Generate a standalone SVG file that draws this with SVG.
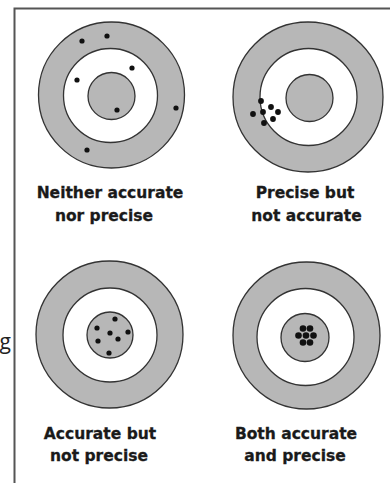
<svg xmlns="http://www.w3.org/2000/svg" width="390" height="483" viewBox="0 0 390 483">
<style>
.ring{fill:#b7b7b7;stroke:#333;stroke-width:1.3}
.mid{fill:#fff;stroke:#333;stroke-width:1.3}
.bull{fill:#b7b7b7;stroke:#333;stroke-width:1.3}
.dot{fill:#111}
.lbl{font-family:"DejaVu Sans",Verdana,sans-serif;font-weight:bold;font-size:15.5px;fill:#1a1a1a;stroke:#1a1a1a;stroke-width:0.3;text-anchor:middle}
.frame{stroke:#555;stroke-width:2;fill:none}
</style>
<rect width="390" height="483" fill="#fff"/>
<path class="frame" d="M14.5 483 V8.5 H390"/>
<text x="11" y="349" font-family="'Open Sans',sans-serif" font-size="21" text-anchor="end" fill="#222">g</text>
<g id="target1">
<circle class="ring" cx="111.5" cy="95" r="73"/>
<circle class="mid" cx="110.5" cy="95.5" r="47"/>
<circle class="bull" cx="111.5" cy="96" r="23.5"/>
<circle class="dot" cx="82" cy="41" r="2.6"/>
<circle class="dot" cx="107" cy="36" r="2.6"/>
<circle class="dot" cx="132" cy="68" r="2.6"/>
<circle class="dot" cx="77" cy="80" r="2.6"/>
<circle class="dot" cx="117" cy="110" r="2.6"/>
<circle class="dot" cx="176" cy="108" r="2.6"/>
<circle class="dot" cx="87" cy="150" r="2.6"/>
<text class="lbl" x="110" y="198">Neither accurate</text>
<text class="lbl" x="104" y="221">nor precise</text>
</g>
<g id="target2">
<circle class="ring" cx="308" cy="97" r="75"/>
<circle class="mid" cx="308.5" cy="97" r="48.5"/>
<circle class="bull" cx="309.5" cy="98" r="23.5"/>
<circle class="dot" cx="261" cy="101" r="2.9"/>
<circle class="dot" cx="253" cy="114" r="2.9"/>
<circle class="dot" cx="263" cy="112" r="2.9"/>
<circle class="dot" cx="271" cy="107" r="2.9"/>
<circle class="dot" cx="278" cy="112" r="2.9"/>
<circle class="dot" cx="273" cy="119" r="2.9"/>
<circle class="dot" cx="264" cy="123" r="2.9"/>
<text class="lbl" x="305" y="198">Precise but</text>
<text class="lbl" x="306.5" y="221">not accurate</text>
</g>
<g id="target3">
<circle class="ring" cx="109.5" cy="334.5" r="73.5"/>
<circle class="mid" cx="110" cy="335" r="47"/>
<circle class="bull" cx="110" cy="335" r="23"/>
<circle class="dot" cx="115" cy="319" r="2.6"/>
<circle class="dot" cx="97" cy="328" r="2.6"/>
<circle class="dot" cx="110" cy="333" r="2.6"/>
<circle class="dot" cx="128" cy="332" r="2.6"/>
<circle class="dot" cx="98" cy="341" r="2.6"/>
<circle class="dot" cx="118" cy="339" r="2.6"/>
<circle class="dot" cx="109" cy="353" r="2.6"/>
<text class="lbl" x="100" y="439">Accurate but</text>
<text class="lbl" x="99" y="461">not precise</text>
</g>
<g id="target4">
<circle class="ring" cx="306.5" cy="335.5" r="73.5"/>
<circle class="mid" cx="305.5" cy="337" r="48.5"/>
<circle class="bull" cx="305" cy="337.5" r="24"/>
<circle class="dot" cx="303" cy="328.5" r="3.3"/>
<circle class="dot" cx="310" cy="328.5" r="3.3"/>
<circle class="dot" cx="298.5" cy="335.5" r="3.3"/>
<circle class="dot" cx="306" cy="335.5" r="3.3"/>
<circle class="dot" cx="313.5" cy="335.5" r="3.3"/>
<circle class="dot" cx="303" cy="342.5" r="3.3"/>
<circle class="dot" cx="310" cy="342.5" r="3.3"/>
<text class="lbl" x="296" y="439">Both accurate</text>
<text class="lbl" x="295" y="461">and precise</text>
</g>
</svg>
